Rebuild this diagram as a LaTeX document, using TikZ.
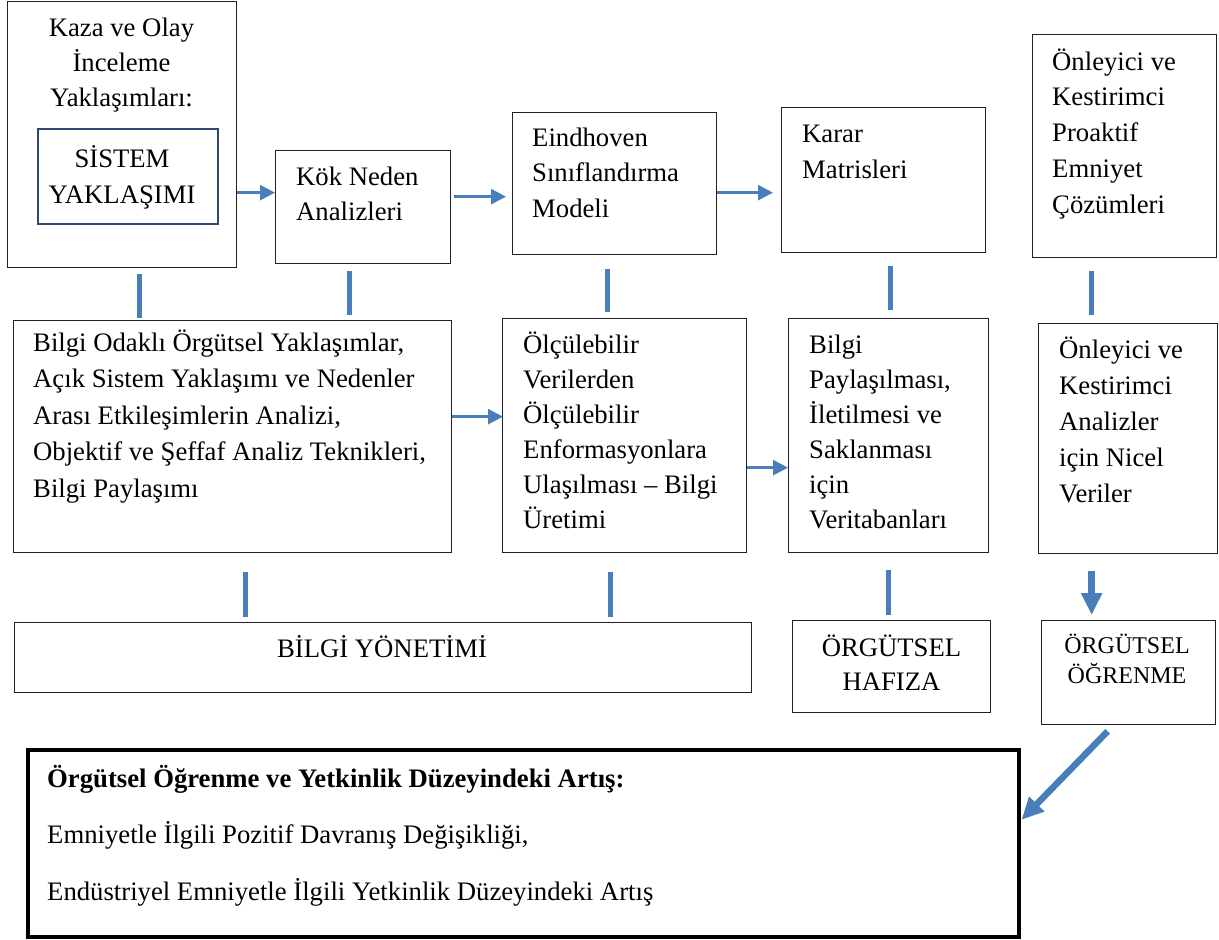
\documentclass[tikz,border=0pt]{standalone}
\usepackage{fontspec}
\setmainfont{Liberation Serif}
\usetikzlibrary{arrows.meta}
\definecolor{arrowblue}{HTML}{4A7EBB}
\definecolor{framedark}{HTML}{2C4A6E}
\definecolor{frameline}{HTML}{222222}
\newcommand\fsz[2]{\fontsize{#1}{#2}\selectfont}
\begin{document}
\begin{tikzpicture}[x=1pt,y=-1pt,
  box/.style={draw=frameline, line width=1.3pt, inner sep=0pt, anchor=north west},
  innerbox/.style={box, draw=framedark, line width=2pt},
  bigbox/.style={box, draw=black, line width=3.5pt},
  txt/.style={inner sep=0pt, anchor=base west},
  ctxt/.style={inner sep=0pt, anchor=base},
  arr/.style={draw=arrowblue, line width=2.6pt, -{Triangle[length=15pt,width=15pt]}},
  bar/.style={draw=arrowblue, line width=5.5pt},
  fatarr/.style={draw=arrowblue, line width=6.5pt, -{Triangle[length=22pt,width=20pt]}}]
\useasboundingbox (0,0) rectangle (1219,940);

% ---- boxes ----
\node[box, minimum width=229pt, minimum height=266pt] (kaza) at (7,1) {};
\node[innerbox, minimum width=180pt, minimum height=95pt] (sistem) at (37,128) {};
\node[box, minimum width=175pt, minimum height=113pt] (kok) at (275,150) {};
\node[box, minimum width=204pt, minimum height=142pt] (eind) at (512,112) {};
\node[box, minimum width=204pt, minimum height=145pt] (karar) at (781,107) {};
\node[box, minimum width=184pt, minimum height=223pt] (onl1) at (1032,34) {};

\node[box, minimum width=438pt, minimum height=232pt] (bilgi) at (13,320) {};
\node[box, minimum width=244pt, minimum height=234pt] (olc) at (502,318) {};
\node[box, minimum width=200pt, minimum height=234pt] (pay) at (788,318) {};
\node[box, minimum width=179pt, minimum height=230pt] (onl2) at (1038,323) {};

\node[box, minimum width=737pt, minimum height=70pt] (bilgiy) at (14,622) {};
\node[box, minimum width=198pt, minimum height=92pt] (hafiza) at (792,620) {};
\node[box, minimum width=174pt, minimum height=104pt] (ogr) at (1041,620) {};

\node[bigbox, minimum width=991pt, minimum height=187pt] (big) at (26,748) {};

% ---- texts ----
\node[ctxt, font=\fsz{26.7}{35}] (tkaza) at (121.5,36)
  {\parbox[t]{220pt}{\centering Kaza ve Olay\\İnceleme\\Yaklaşımları:}};
\node[ctxt, font=\fsz{26.7}{36}] (tsistem) at (122,167)
  {\parbox[t]{180pt}{\centering SİSTEM\\YAKLAŞIMI}};
\node[txt, font=\fsz{26.7}{35}] (tkok) at (296,185)
  {\parbox[t]{150pt}{\raggedright Kök Neden\\Analizleri}};
\node[txt, font=\fsz{26.7}{35.5}] (teind) at (532,146)
  {\parbox[t]{180pt}{\raggedright Eindhoven\\Sınıflandırma\\Modeli}};
\node[txt, font=\fsz{26.7}{36}] (tkarar) at (802,142)
  {\parbox[t]{180pt}{\raggedright Karar\\Matrisleri}};
\node[txt, font=\fsz{26.7}{35.8}] (tonl1) at (1052,70)
  {\parbox[t]{160pt}{\raggedright Önleyici ve\\Kestirimci\\Proaktif\\Emniyet\\Çözümleri}};

\node[txt, font=\fsz{26.7}{36.5}] (tbilgi) at (33,351)
  {\parbox[t]{420pt}{\raggedright Bilgi Odaklı Örgütsel Yaklaşımlar,\\Açık Sistem Yaklaşımı ve Nedenler\\Arası Etkileşimlerin Analizi,\\Objektif ve Şeffaf Analiz Teknikleri,\\Bilgi Paylaşımı}};
\node[txt, font=\fsz{26.7}{35}] (tolc) at (523,353)
  {\parbox[t]{230pt}{\raggedright Ölçülebilir\\Verilerden\\Ölçülebilir\\Enformasyonlara\\Ulaşılması – Bilgi\\Üretimi}};
\node[txt, font=\fsz{26.7}{35}] (tpay) at (809,353)
  {\parbox[t]{180pt}{\raggedright Bilgi\\Paylaşılması,\\İletilmesi ve\\Saklanması\\için\\Veritabanları}};
\node[txt, font=\fsz{26.7}{36.2}] (tonl2) at (1059,358)
  {\parbox[t]{150pt}{\raggedright Önleyici ve\\Kestirimci\\Analizler\\için Nicel\\Veriler}};

\node[ctxt, font=\fsz{26.7}{35}] (tbilgiy) at (382,657) {BİLGİ YÖNETİMİ};
\node[ctxt, font=\fsz{26.7}{34}] (thafiza) at (891.5,656)
  {\parbox[t]{190pt}{\centering ÖRGÜTSEL\\HAFIZA}};
\node[ctxt, font=\fsz{24}{30}] (togr) at (1127,653)
  {\parbox[t]{170pt}{\centering ÖRGÜTSEL\\ÖĞRENME}};

\node[txt, font=\fsz{26.7}{56.5}] (tbig) at (47,787)
  {\parbox[t]{900pt}{\raggedright \textbf{Örgütsel Öğrenme ve Yetkinlik Düzeyindeki Artış:}\\Emniyetle İlgili Pozitif Davranış Değişikliği,\\Endüstriyel Emniyetle İlgili Yetkinlik Düzeyindeki Artış}};

% ---- horizontal arrows ----
\path (kok.west) ++(0,-14.5) coordinate (a1);
\draw[arr] (kaza.east |- a1) -- (a1);
\path (eind.west) ++(-6,13) coordinate (a2);
\draw[arr, shorten <=3pt] (kok.east |- a2) -- (a2);
\path (karar.west) ++(-8,12.5) coordinate (a3);
\draw[arr] (eind.east |- a3) -- (a3);
\path (olc.west) ++(1,-19) coordinate (a4);
\draw[arr] (bilgi.east |- a4) -- (a4);
\path (pay.west) ++(0,32) coordinate (a5);
\draw[arr] (olc.east |- a5) -- (a5);

% ---- vertical links between rows ----
\coordinate (v1) at ([xshift=17.5pt]kaza.south);
\draw[bar, shorten <=6pt, shorten >=2pt] (v1) -- (v1 |- bilgi.north);
\coordinate (v2) at ([xshift=-13.5pt]kok.south);
\draw[bar, shorten <=7pt, shorten >=5pt] (v2) -- (v2 |- bilgi.north);
\coordinate (v3) at ([xshift=-7pt]eind.south);
\draw[bar, shorten <=14pt, shorten >=6pt] (v3) -- (v3 |- olc.north);
\coordinate (v4) at ([xshift=7pt]karar.south);
\draw[bar, shorten <=13pt, shorten >=8pt] (v4) -- (v4 |- pay.north);
\coordinate (v5) at ([xshift=-33pt]onl1.south);
\draw[bar, shorten <=13pt, shorten >=8pt] (v5) -- (v5 |- onl2.north);

\coordinate (v6) at ([xshift=13pt]bilgi.south);
\draw[bar, shorten <=19pt, shorten >=5pt] (v6) -- (v6 |- bilgiy.north);
\coordinate (v7) at ([xshift=-14pt]olc.south);
\draw[bar, shorten <=19pt, shorten >=5pt] (v7) -- (v7 |- bilgiy.north);
\coordinate (v8) at (pay.south);
\draw[bar, shorten <=17pt, shorten >=5pt] (v8) -- (v8 |- hafiza.north);
\coordinate (v9) at ([xshift=-36.5pt]onl2.south);
\draw[fatarr, shorten <=17pt, shorten >=5pt] (v9) -- (v9 |- ogr.north);

% ---- diagonal arrow into the summary box ----
\coordinate (d1) at ([shift={(-21,6)}]ogr.south);
\coordinate (d2) at ([shift={(1,-23.5)}]big.east);
\draw[fatarr] (d1) -- (d2);
\end{tikzpicture}
\end{document}
